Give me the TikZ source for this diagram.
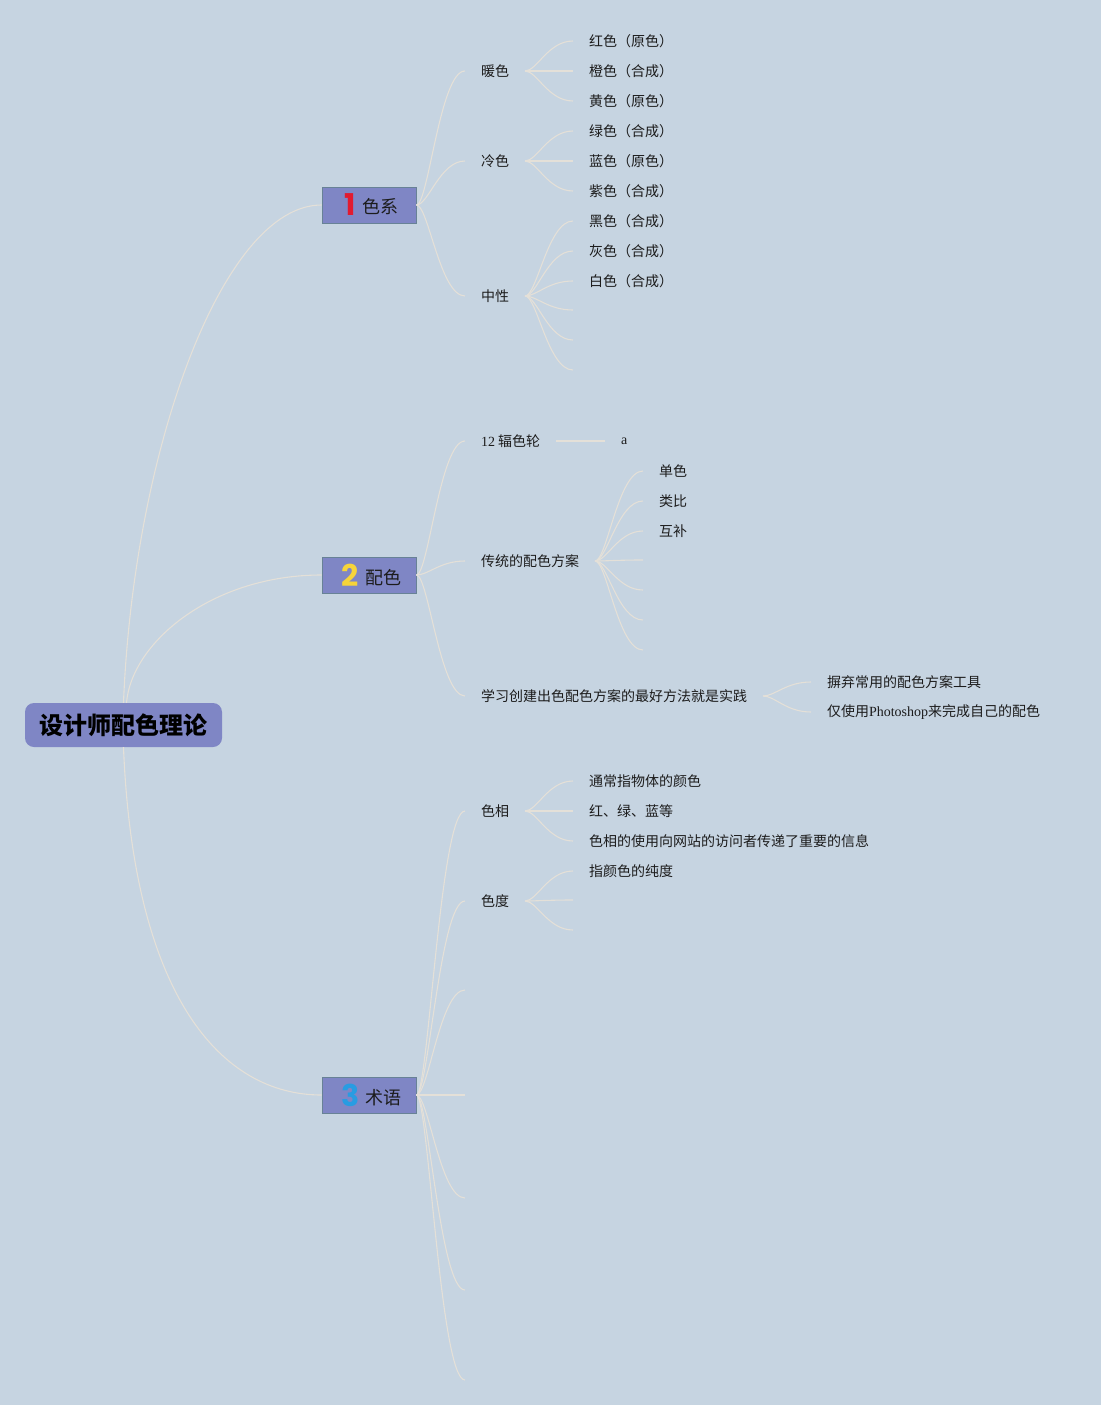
\documentclass[tikz,border=0pt]{standalone}
\usepackage{fontspec}
\setmainfont{Noto Sans CJK SC}
\newfontfamily\latfont{Liberation Serif}
\newfontfamily\numfont{Poppins}
\usetikzlibrary{positioning}

\definecolor{bg}{RGB}{198,212,225}
\definecolor{boxfill}{RGB}{127,134,197}
\definecolor{boxline}{RGB}{104,130,150}
\definecolor{linkcol}{RGB}{228,224,216}
\definecolor{txt}{RGB}{28,28,28}
\definecolor{numred}{RGB}{226,26,48}
\definecolor{numyellow}{RGB}{246,212,58}
\definecolor{numblue}{RGB}{40,156,226}

\newcommand\topicnum[2]{\hspace{5pt}{\color{#1}\numfont\bfseries\fontsize{30}{30}\selectfont #2}\hspace{6pt}}

\begin{document}
\begin{tikzpicture}[x=1pt,y=-1pt,
    rootbox/.style={fill=boxfill, rounded corners=9pt, minimum width=197pt, minimum height=44pt,
      inner sep=0pt, text=black, font=\bfseries\fontsize{24}{28}\selectfont},
    topicbox/.style={fill=boxfill, draw=boxline, line width=0.8pt, minimum width=94pt,
      minimum height=36pt, inner sep=0pt, text=txt, font=\fontsize{18}{20}\selectfont},
    itemtext/.style={anchor=west, inner sep=0pt, outer xsep=16pt, yshift=-1pt, text=txt,
      font=\fontsize{14}{17}\selectfont},
    link/.style={linkcol, line width=1.1pt},
    fan/.style={to path={.. controls +(12,0) and +(-25,0) .. (\tikztotarget)}}
  ]
  % Hintergrund
  \useasboundingbox (0,0) rectangle (1101,1405);
  \fill[bg] (0,0) rectangle (1101,1405);

  % Wurzel und Hauptthemen
  \node[rootbox] (root) at (123.5,725) {设计师配色理论};
  \node[topicbox] (t1) at (369,205) {\topicnum{numred}{1}\raisebox{2pt}{色系}};
  \node[topicbox] (t2) at (369,575) {\topicnum{numyellow}{2}\raisebox{2pt}{配色}};
  \node[topicbox] (t3) at (369,1095) {\topicnum{numblue}{3}\raisebox{2pt}{术语}};

  \draw[link] (root.north) .. controls +(10,-250) and +(-100,0) .. (t1.west);
  \draw[link] ([xshift=3pt]root.north) .. controls +(5,-60) and +(-110,0) .. (t2.west);
  \draw[link] (root.south) .. controls +(10,250) and +(-100,0) .. (t3.west);

  % 色系
  \node[itemtext] (c11) at (465,70) {暖色};
  \node[itemtext] (c12) at (465,160) {冷色};
  \node[itemtext] (c13) at (465,295) {中性};
  \foreach \c in {c11,c12,c13} \draw[link] (t1.east) to[fan] (\c.west);

  \node[itemtext] (c111) at (573,40) {红色（原色）};
  \node[itemtext] (c112) at (573,70) {橙色（合成）};
  \node[itemtext] (c113) at (573,100) {黄色（原色）};
  \foreach \c in {c111,c112,c113} \draw[link] (c11.east) to[fan] (\c.west);

  \node[itemtext] (c121) at (573,130) {绿色（合成）};
  \node[itemtext] (c122) at (573,160) {蓝色（原色）};
  \node[itemtext] (c123) at (573,190) {紫色（合成）};
  \foreach \c in {c121,c122,c123} \draw[link] (c12.east) to[fan] (\c.west);

  \node[itemtext] (c131) at (573,220) {黑色（合成）};
  \node[itemtext] (c132) at (573,250) {灰色（合成）};
  \node[itemtext] (c133) at (573,280) {白色（合成）};
  \coordinate (c134) at (573,310);
  \coordinate (c135) at (573,340);
  \coordinate (c136) at (573,370);
  \foreach \c in {c131,c132,c133} \draw[link] (c13.east) to[fan] (\c.west);
  \foreach \c in {c134,c135,c136} \draw[link] (c13.east) to[fan] (\c);

  % 配色
  \node[itemtext] (c21) at (465,440) {{\latfont 12} 辐色轮};
  \node[itemtext] (c22) at (465,560) {传统的配色方案};
  \node[itemtext] (c23) at (465,695) {学习创建出色配色方案的最好方法就是实践};
  \foreach \c in {c21,c22,c23} \draw[link] (t2.east) to[fan] (\c.west);

  \node[itemtext] (c211) at (605,440) {\latfont a};
  \draw[link] (c21.east) -- (c211.west);

  \node[itemtext] (c221) at (643,470) {单色};
  \node[itemtext] (c222) at (643,500) {类比};
  \node[itemtext] (c223) at (643,530) {互补};
  \coordinate (c224) at (643,560);
  \coordinate (c225) at (643,590);
  \coordinate (c226) at (643,620);
  \coordinate (c227) at (643,650);
  \foreach \c in {c221,c222,c223} \draw[link] (c22.east) to[fan] (\c.west);
  \foreach \c in {c224,c225,c226,c227} \draw[link] (c22.east) to[fan] (\c);

  \node[itemtext] (c231) at (811,681) {摒弃常用的配色方案工具};
  \node[itemtext] (c232) at (811,711) {仅使用{\latfont Photoshop}来完成自己的配色};
  \foreach \c in {c231,c232} \draw[link] (c23.east) to[fan] (\c.west);

  % 术语
  \node[itemtext] (c31) at (465,810) {色相};
  \node[itemtext] (c32) at (465,900) {色度};
  \coordinate (c33) at (465,990);
  \coordinate (c34) at (465,1095);
  \coordinate (c35) at (465,1198);
  \coordinate (c36) at (465,1290);
  \coordinate (c37) at (465,1380);
  \foreach \c in {c31,c32} \draw[link] (t3.east) to[fan] (\c.west);
  \foreach \c in {c33,c34,c35,c36,c37} \draw[link] (t3.east) to[fan] (\c);

  \node[itemtext] (c311) at (573,780) {通常指物体的颜色};
  \node[itemtext] (c312) at (573,810) {红、绿、蓝等};
  \node[itemtext] (c313) at (573,840) {色相的使用向网站的访问者传递了重要的信息};
  \foreach \c in {c311,c312,c313} \draw[link] (c31.east) to[fan] (\c.west);

  \node[itemtext] (c321) at (573,870) {指颜色的纯度};
  \coordinate (c322) at (573,900);
  \coordinate (c323) at (573,930);
  \draw[link] (c32.east) to[fan] (c321.west);
  \foreach \c in {c322,c323} \draw[link] (c32.east) to[fan] (\c);
\end{tikzpicture}
\end{document}
